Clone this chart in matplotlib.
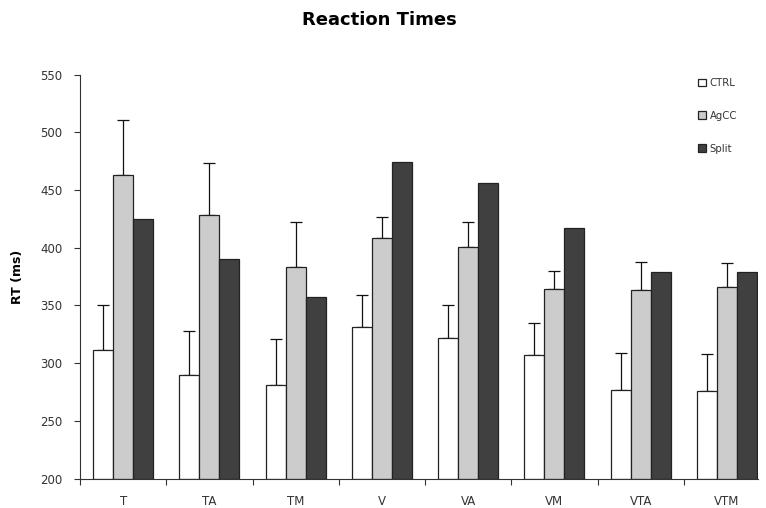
import matplotlib
matplotlib.use("Agg")
import matplotlib.pyplot as plt
import numpy as np

categories = ["T", "TA", "TM", "V", "VA", "VM", "VTA", "VTM"]
series_names = ["CTRL", "AgCC", "Split"]
ctrl = [311, 290, 281, 331, 322, 307, 277, 276]
agcc = [463, 428, 383, 408, 401, 364, 363, 366]
split = [425, 390, 357, 474, 456, 417, 379, 379]
ctrl_err = [39, 38, 40, 28, 28, 28, 32, 32]
agcc_err = [48, 45, 39, 19, 21, 16, 25, 21]
y_ticks = [200, 250, 300, 350, 400, 450, 500, 550]

colors = ["#ffffff", "#cccccc", "#404040"]
edge = "#222222"

fig = plt.figure(figsize=(7.66, 5.08), dpi=100)
ax = fig.add_axes([80/766, (508-478.5)/508, (758-80)/766, (478.5-74.6)/508])

x = np.arange(len(categories))
w = 0.232
vals = [ctrl, agcc, split]
errs = [ctrl_err, agcc_err, None]
handles = []
for i, (v, c, name) in enumerate(zip(vals, colors, series_names)):
    pos = x + (i - 1) * w
    b = ax.bar(pos, np.array(v) - 200, width=w, bottom=200, color=c,
               edgecolor=edge, linewidth=0.9, label=name, zorder=2)
    handles.append(b)
    if errs[i] is not None:
        ax.errorbar(pos, v, yerr=[np.zeros(len(v)), errs[i]], fmt='none',
                    ecolor='#111111', elinewidth=0.9, capsize=4.3,
                    capthick=0.9, zorder=1)

ax.set_ylim(200, 550)
ax.set_xlim(-0.5, 7.36)
ax.set_yticks(y_ticks)
ax.set_yticklabels([str(t) for t in y_ticks], fontsize=8.5, color="#333333")
ax.set_xticks(np.arange(-0.5, 7.0, 1.0))
ax.set_xticklabels([])
ax.set_xticks(x, minor=True)
ax.set_xticklabels(categories, minor=True, fontsize=8.5, color="#333333")
ax.tick_params(axis='x', which='minor', length=0, pad=12)
ax.tick_params(axis='x', which='major', length=4, width=0.8, color="#333333", direction='out')
ax.tick_params(axis='y', length=4.5, width=0.8, color="#333333", direction='out', pad=8)

for s in ["top", "right"]:
    ax.spines[s].set_visible(False)
for s in ["left", "bottom"]:
    ax.spines[s].set_color("#333333")
    ax.spines[s].set_linewidth(0.8)

ax.set_ylabel("RT (ms)", fontsize=9, fontweight='bold', labelpad=12)
fig.text(379/766, 1 - 20/508, "Reaction Times", ha='center', va='center',
         fontsize=13, fontweight='bold')

leg = fig.legend(handles=handles, labels=series_names, loc='upper left',
                 bbox_to_anchor=(698/766, 1 - 78/508), frameon=False,
                 fontsize=7.3, handlelength=0.8, handleheight=0.8,
                 handletextpad=0.35, labelspacing=2.25, borderpad=0,
                 borderaxespad=0)
for t in leg.get_texts():
    t.set_color("#333333")

fig.savefig("out.png", dpi=100)
